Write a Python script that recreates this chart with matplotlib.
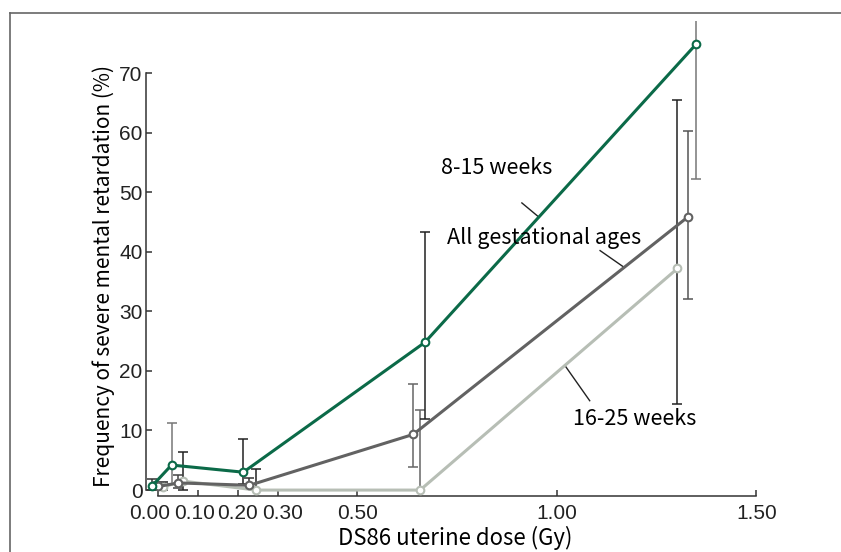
import numpy as np
import matplotlib; matplotlib.use('Agg'); import matplotlib.pyplot as plt
from matplotlib.lines import Line2D
import matplotlib.transforms as mtransforms

# dose (Gy) and frequency (%), with error-bar bounds
x_815 = [-0.016, 0.034, 0.214, 0.669, 1.348]
y_815 = [0.6, 4.2, 3.0, 24.8, 74.8]
lo_815 = [0.0, 1.0, 1.0, 12.0, 52.2]
hi_815 = [1.8, 11.3, 8.5, 43.4, 82.0]

x_all = [0.001, 0.051, 0.229, 0.640, 1.329]
y_all = [0.6, 1.2, 0.8, 9.35, 45.9]
lo_all = [0.0, 0.3, 0.2, 3.9, 32.0]
hi_all = [1.4, 2.5, 2.1, 17.8, 60.2]

x_1625 = [0.013, 0.063, 0.246, 0.657, 1.302]
y_1625 = [0.55, 1.5, 0.0, 0.0, 37.2]
lo_1625 = [0.0, 0.0, 0.0, 0.0, 14.4]
hi_1625 = [1.4, 6.4, 3.6, 13.5, 65.4]

xticks = [0.0, 0.1, 0.2, 0.3, 0.5, 1.0, 1.5]
xticklabels = ['0.00', '0.10', '0.20', '0.30', '0.50', '1.00', '1.50']
yticks = [0, 10, 20, 30, 40, 50, 60, 70]

GREEN = '#0b6a48'; DARK = '#626262'; LIGHT = '#b7beb5'
JP = ['Noto Sans CJK JP', 'DejaVu Sans']
NUM = ['Liberation Sans', 'DejaVu Sans']

fig = plt.figure(figsize=(8.41, 5.52), dpi=100)
ax = fig.add_axes([0.1736, 0.1014, 0.7354, 0.8612])

series = [(x_1625, y_1625, lo_1625, hi_1625, LIGHT, ['#222222', '#222222', '#222222', '#666666', '#222222']),
          (x_all, y_all, lo_all, hi_all, DARK, ['#555555', '#444444', '#333333', '#666666', '#555555']),
          (x_815, y_815, lo_815, hi_815, GREEN, ['#333333', '#777777', '#222222', '#222222', '#777777'])]
for xs, ys, lo, hi, c, ecs in series:
    for xi, yi, l, h, ec in zip(xs, ys, lo, hi, ecs):
        ax.errorbar([xi], [yi], yerr=[[yi - l], [h - yi]], fmt='none', ecolor=ec,
                    elinewidth=1.1, capsize=3.5, capthick=1.1, zorder=2)
    ax.plot(xs, ys, color=c, lw=2.2, marker='o', ms=5.5, mfc='white', mec=c, mew=1.5, zorder=3)

# annotations with leader lines
ax.text(0.71, 54.0, '8-15 weeks', fontsize=15.5, family=JP, ha='left', va='center')
ax.plot([0.912, 0.955], [48.2, 45.8], color='#222222', lw=1)
ax.text(0.725, 42.3, 'All gestational ages', fontsize=15.5, family=JP, ha='left', va='center')
ax.plot([1.108, 1.168], [40.2, 37.4], color='#222222', lw=1)
ax.text(1.04, 12.0, '16-25 weeks', fontsize=15.5, family=JP, ha='left', va='center')
ax.plot([1.02, 1.082], [20.9, 15.0], color='#222222', lw=1)

ax.set_xlim(-0.03, 1.52)
ax.set_ylim(-1, 78.8)
for s in ['top', 'right']:
    ax.spines[s].set_visible(False)
ax.spines['left'].set_bounds(0, 70)
ax.spines['bottom'].set_bounds(0, 1.5)
for s in ['left', 'bottom']:
    ax.spines[s].set_color('#333333'); ax.spines[s].set_linewidth(1.1)

ax.set_xticks(xticks)
ax.set_xticklabels(xticklabels, family=NUM, fontsize=15)
ax.set_yticks(yticks)
ax.set_yticklabels([str(v) for v in yticks], family=NUM, fontsize=15)
ax.tick_params(direction='in', length=4.5, width=1.1, color='#333333', labelcolor='#222222')
ax.tick_params(axis='x', pad=6)
ax.tick_params(axis='y', pad=2.5)
# spread the crowded low-dose labels like the original
shifts = {0: -8, 1: -3, 3: 5}
for i, lab in enumerate(ax.get_xticklabels()):
    if i in shifts:
        lab.set_transform(lab.get_transform() + mtransforms.ScaledTranslation(shifts[i] / 100, 0, fig.dpi_scale_trans))

ax.set_xlabel('DS86 uterine dose (Gy)', family=JP, fontsize=16, labelpad=2)
ax.set_ylabel('Frequency of severe mental retardation (%)', family=JP, fontsize=15)
ax.yaxis.set_label_coords(-0.05, 0.463)

# page frame (top and left edges)
fig.add_artist(Line2D([10 / 841, 1], [1 - 13 / 552, 1 - 13 / 552], color='#666666', lw=1.2))
fig.add_artist(Line2D([10 / 841, 10 / 841], [0, 1 - 13 / 552], color='#666666', lw=1.2))

fig.savefig('out.png', dpi=100)
